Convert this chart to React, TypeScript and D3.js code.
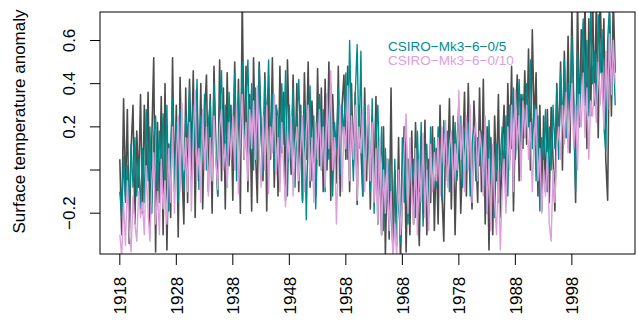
import React from 'react';
import * as d3 from 'd3';

// series sampled every 4 months, starting Jan 1918
const START_YEAR = 1918;
const PER_YEAR = 3;

const observed = [
  0.05, -0.30, 0.33, -0.12, 0.28, -0.34, 0.10, 0.30, -0.25, 0.18, -0.08, 0.35,
  -0.20, 0.30, -0.05, 0.36, -0.28, 0.15, 0.52, -0.38, 0.22, -0.15, 0.34, -0.30,
  0.40, -0.37, 0.12, -0.22, 0.52, -0.10, 0.30, -0.31, 0.43, 0.00, -0.25, 0.38,
  -0.15, 0.42, 0.05, 0.46, -0.22, 0.30, -0.05, 0.40, -0.18, 0.25, 0.44, -0.10,
  0.35, -0.20, 0.48, 0.10, -0.12, 0.51, -0.05, 0.38, -0.18, 0.45, 0.02, 0.30,
  -0.14, 0.50, 0.00, 0.42, -0.20, 0.80, 0.05, 0.48, -0.10, 0.35, -0.19, 0.52,
  0.10, -0.15, 0.50, 0.20, -0.05, 0.45, -0.19, 0.38, 0.05, 0.52, -0.08, 0.30,
  -0.12, 0.48, 0.08, 0.36, -0.14, 0.51, 0.15, -0.02, 0.44, 0.00, 0.40, -0.10,
  0.30, -0.14, 0.45, 0.05, 0.50, -0.08, 0.32, 0.12, -0.12, 0.47, 0.02, 0.38,
  -0.10, 0.42, 0.00, 0.50, -0.14, 0.35, 0.10, -0.06, 0.48, -0.12, 0.30, 0.44,
  0.05, 0.48, -0.10, 0.40, 0.02, 0.36, -0.16, 0.30, 0.10, -0.12, 0.38, -0.05,
  0.30, -0.18, 0.25, -0.05, 0.34, -0.25, 0.10, -0.30, 0.20, -0.39, 0.05, -0.32,
  0.38, -0.40, 0.00, -0.35, 0.15, -0.42, -0.10, 0.20, -0.38, 0.05, -0.30, 0.18,
  -0.25, 0.22, -0.08, -0.35, 0.12, -0.20, 0.23, -0.30, 0.05, -0.15, 0.20, -0.28,
  0.10, -0.25, 0.30, -0.10, -0.33, 0.18, -0.05, 0.33, -0.18, 0.25, -0.30, 0.12,
  0.30, -0.20, 0.05, 0.36, -0.12, 0.40, 0.00, -0.18, 0.32, 0.10, -0.15, 0.38,
  -0.10, 0.42, -0.25, 0.20, -0.37, 0.15, -0.30, 0.25, -0.05, 0.35, -0.22, 0.08,
  0.30, -0.15, 0.40, 0.05, 0.48, -0.19, 0.22, 0.44, -0.05, 0.35, 0.10, 0.46,
  0.12, 0.56, 0.00, 0.65, 0.20, 0.45, -0.12, 0.30, -0.19, 0.25, -0.10, 0.28,
  -0.15, 0.29, 0.05, -0.19, 0.40, 0.10, 0.50, 0.00, 0.55, 0.15, 0.62, 0.08,
  0.75, 0.30, -0.15, 0.80, 0.20, 0.65, 0.35, 0.78, 0.10, 0.70, 0.25, 0.82,
  0.30, 0.78, 0.15, 0.85, 0.40, 0.70, 0.05, -0.14, 0.72, 0.25, 0.80, 0.45,
];

const csiro5 = [
  -0.10, -0.22, 0.06, -0.15, 0.02, -0.20, 0.12, -0.08, 0.15, -0.12, 0.05, -0.18,
  0.10, -0.15, 0.28, -0.05, 0.20, -0.20, 0.15, 0.25, -0.10, 0.18, 0.02, 0.26,
  -0.05, 0.30, -0.19, 0.12, 0.33, -0.08, 0.22, -0.15, 0.28, 0.05, -0.10, 0.25,
  0.15, 0.38, -0.05, 0.30, 0.10, 0.42, -0.09, 0.25, 0.05, 0.35, 0.00, 0.22,
  0.32, -0.05, 0.40, 0.10, -0.12, 0.28, 0.46, 0.02, 0.30, -0.08, 0.36, 0.12,
  0.20, 0.45, -0.05, 0.35, 0.10, 0.50, 0.05, 0.30, 0.51, 0.08, 0.40, 0.00,
  0.38, 0.05, 0.48, 0.15, -0.02, 0.42, 0.20, 0.51, 0.10, 0.35, 0.00, 0.30,
  0.25, -0.05, 0.40, 0.12, 0.46, -0.12, 0.30, 0.05, 0.38, -0.08, 0.22, 0.42,
  0.10, -0.15, 0.30, -0.23, 0.20, 0.39, -0.05, 0.25, -0.18, 0.15, 0.35, 0.00,
  0.28, -0.10, 0.35, 0.05, 0.40, -0.12, 0.22, 0.10, 0.38, -0.02, 0.30, 0.15,
  0.45, 0.05, 0.60, 0.20, -0.05, 0.35, 0.58, 0.10, 0.55, -0.12, 0.30, 0.05,
  0.25, -0.10, 0.33, -0.20, 0.15, 0.30, -0.05, 0.20, -0.28, 0.10, -0.15, 0.05,
  -0.20, -0.36, 0.05, -0.30, -0.10, -0.34, 0.15, -0.15, 0.20, -0.25, 0.10, -0.05,
  0.05, -0.22, 0.18, -0.10, 0.22, -0.26, 0.00, 0.12, -0.20, 0.20, -0.05, 0.15,
  -0.08, 0.20, 0.02, -0.14, 0.23, 0.05, 0.18, -0.10, 0.15, 0.00, 0.22, -0.05,
  0.10, 0.25, -0.08, 0.18, 0.00, 0.22, -0.12, 0.12, 0.20, -0.05, 0.15, 0.02,
  0.18, -0.10, 0.10, -0.20, 0.23, -0.05, 0.08, -0.22, 0.12, -0.15, 0.05, 0.20,
  0.00, 0.25, -0.12, 0.30, 0.10, 0.38, 0.05, 0.20, 0.42, 0.12, 0.35, 0.15,
  0.40, 0.20, 0.51, 0.10, 0.30, -0.05, 0.25, -0.19, 0.15, 0.05, 0.28, -0.10,
  0.20, 0.00, 0.30, 0.10, 0.38, 0.05, 0.45, 0.20, 0.51, 0.15, 0.40, 0.25,
  0.62, 0.30, -0.10, 0.55, 0.20, 0.45, 0.70, 0.30, 0.60, 0.25, 0.75, 0.40,
  0.55, 0.30, 0.72, 0.45, 0.65, 0.20, 0.09, 0.60, 0.76, 0.35, 0.58, 0.30,
];

const csiro10 = [
  -0.30, -0.40, -0.15, -0.35, -0.05, -0.28, -0.38, -0.12, -0.25, -0.33, -0.10, -0.22,
  -0.15, -0.30, 0.02, -0.20, -0.33, -0.05, 0.08, -0.25, -0.10, -0.30, 0.05, -0.18,
  -0.05, -0.25, 0.10, -0.15, 0.20, -0.20, 0.05, 0.25, -0.10, 0.31, 0.00, 0.15,
  -0.10, 0.22, -0.19, 0.15, 0.37, -0.05, 0.10, -0.15, 0.28, 0.00, 0.20, -0.12,
  0.15, -0.05, 0.25, 0.05, -0.09, 0.20, 0.28, 0.00, 0.12, -0.08, 0.22, 0.05,
  0.25, 0.00, 0.30, -0.11, 0.18, 0.35, 0.05, 0.22, -0.05, 0.28, 0.10, 0.32,
  0.05, 0.39, 0.10, -0.08, 0.25, 0.00, 0.30, -0.11, 0.20, 0.08, 0.35, -0.02,
  0.15, -0.10, 0.22, 0.00, -0.17, 0.18, 0.05, 0.25, -0.12, 0.10, 0.20, -0.05,
  0.10, 0.25, -0.10, 0.18, 0.30, -0.05, 0.15, -0.15, 0.22, 0.05, 0.28, 0.00,
  0.20, -0.08, 0.35, 0.10, 0.46, 0.00, 0.15, -0.25, 0.05, 0.30, -0.10, 0.20,
  0.10, 0.39, -0.05, 0.25, 0.05, 0.30, -0.14, 0.20, 0.08, 0.28, -0.10, 0.15,
  0.30, -0.05, 0.22, -0.15, 0.10, -0.25, 0.15, -0.30, 0.00, -0.20, 0.05, -0.28,
  -0.10, -0.42, -0.25, -0.40, 0.00, -0.30, -0.15, 0.10, 0.26, -0.20, 0.15, -0.10,
  -0.25, 0.10, -0.30, 0.05, -0.15, 0.17, -0.22, 0.00, -0.28, 0.12, -0.10, 0.08,
  -0.05, 0.15, -0.12, 0.20, 0.02, 0.23, -0.08, 0.10, 0.18, -0.10, 0.12, 0.00,
  0.37, 0.05, 0.20, -0.10, 0.25, 0.00, 0.30, -0.15, 0.15, 0.22, -0.05, 0.18,
  0.10, -0.12, 0.25, -0.20, 0.05, -0.28, 0.12, -0.15, -0.30, 0.00, -0.37, -0.10,
  0.05, -0.20, 0.20, 0.00, 0.30, -0.10, 0.37, 0.10, 0.25, -0.05, 0.32, 0.15,
  0.30, 0.05, 0.22, -0.10, 0.15, 0.28, -0.05, 0.10, -0.20, 0.00, -0.12, 0.08,
  -0.25, -0.33, 0.00, -0.15, 0.10, 0.20, 0.05, 0.30, 0.12, 0.36, 0.08, 0.25,
  0.40, 0.10, 0.30, 0.00, 0.35, 0.20, 0.45, 0.15, 0.38, 0.05, 0.32, 0.25,
  0.40, 0.22, 0.50, 0.30, 0.45, 0.19, 0.55, 0.28, 0.63, 0.35, 0.60, 0.40,
];

const xTicks = [1918, 1928, 1938, 1948, 1958, 1968, 1978, 1988, 1998];
const yTicks = [-0.2, 0, 0.2, 0.4, 0.6];
const yTickLabels = ['\u22120.2', '', '0.2', '0.4', '0.6'];
const legendLabels = ['CSIRO\u2212Mk3\u22126\u22120/5', 'CSIRO\u2212Mk3\u22126\u22120/10'];
const legendColours = ['#008B8B', '#DDA0DD'];

const W = 638, H = 321;
const plot = { left: 100, right: 635, top: 12, bottom: 254 };
const FONT = '"Liberation Sans", Arial, Helvetica, sans-serif';

const App = () => {
  const n = observed.length;
  const yrs = d3.range(n).map(i => START_YEAR + i / PER_YEAR);
  const [x0, x1] = d3.extent(yrs) as [number, number];
  const pad = (x1 - x0) * 0.04; // R style axis expansion

  const x = d3.scaleLinear().domain([x0 - pad, x1 + pad]).range([plot.left, plot.right]);
  const y = d3.scaleLinear().domain([-0.389, 0.732]).range([plot.bottom, plot.top]);

  const line = d3.line<number>()
    .x((_, i) => x(yrs[i]))
    .y(d => y(d));

  const series = [
    { vals: observed, colour: '#4D4D4D', w: 1.6 },
    { vals: csiro5, colour: legendColours[0], w: 1.4 },
    { vals: csiro10, colour: legendColours[1], w: 1.4 },
  ];

  return (
    <div style={{ position: 'absolute', left: 0, top: 0 }}>
      <svg width={W} height={H} style={{ display: 'block', background: '#fff' }} fontFamily={FONT}>
        <defs>
          <clipPath id="plotClip">
            <rect x={plot.left} y={plot.top} width={plot.right - plot.left} height={plot.bottom - plot.top} />
          </clipPath>
        </defs>

        <g clipPath="url(#plotClip)">
          {series.map((s, k) => (
            <path key={k} d={line(s.vals) || ''} fill="none" stroke={s.colour}
              strokeWidth={s.w} strokeLinejoin="round" />
          ))}
        </g>

        {/* legend, no box */}
        {legendLabels.map((lbl, i) => (
          <text key={lbl} x={388} y={51 + i * 13.5} fontSize={13.5} fill={legendColours[i]}>{lbl}</text>
        ))}

        <rect x={plot.left} y={plot.top} width={plot.right - plot.left} height={plot.bottom - plot.top}
          fill="none" stroke="#000" strokeWidth={1} />

        {/* y axis */}
        {yTicks.map((t, i) => (
          <g key={t}>
            <line x1={plot.left - 10} x2={plot.left} y1={y(t)} y2={y(t)} stroke="#000" />
            {yTickLabels[i] && (
              <text transform={`translate(75,${y(t)}) rotate(-90)`} textAnchor="middle" fontSize={17} fill="#000">
                {yTickLabels[i]}
              </text>
            )}
          </g>
        ))}
        <text transform="translate(25,121.5) rotate(-90)" textAnchor="middle" fontSize={17} fill="#000">
          Surface temperature anomaly
        </text>

        {/* x axis */}
        {xTicks.map(t => (
          <g key={t}>
            <line x1={x(t)} x2={x(t)} y1={plot.bottom} y2={plot.bottom + 11} stroke="#000" />
            <text transform={`translate(${x(t) + 6.3},276.7) rotate(-90)`} textAnchor="end" fontSize={17} fill="#000">
              {t}
            </text>
          </g>
        ))}
      </svg>
    </div>
  );
};

export default App;
